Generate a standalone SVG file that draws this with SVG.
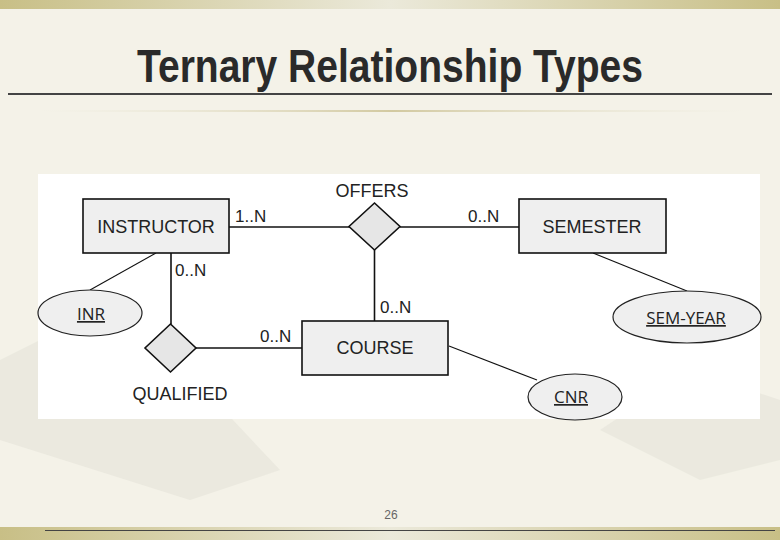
<svg xmlns="http://www.w3.org/2000/svg" width="780" height="540" viewBox="0 0 780 540">
<defs>
<linearGradient id="band" x1="0" y1="0" x2="1" y2="0">
<stop offset="0" stop-color="#c8bf86"/>
<stop offset="0.5" stop-color="#ebe9da"/>
<stop offset="1" stop-color="#c8bf86"/>
</linearGradient>
<linearGradient id="faint" x1="0" y1="0" x2="1" y2="0">
<stop offset="0" stop-color="#e8e5d4" stop-opacity="0"/>
<stop offset="0.5" stop-color="#d2c9a0"/>
<stop offset="1" stop-color="#e8e5d4" stop-opacity="0"/>
</linearGradient>
</defs>
<style>
.ent{fill:#efefef;stroke:#111;stroke-width:1.6}
.rel{fill:#e6e6e6;stroke:#111;stroke-width:1.6}
.att{fill:#efefef;stroke:#222;stroke-width:1.2}
.lbl{font-family:"Liberation Sans",Arial,sans-serif;font-size:18px;fill:#222}
.card{font-family:"Liberation Sans",Arial,sans-serif;font-size:17px;fill:#222}
.key{font-family:"Open Sans","Liberation Sans",sans-serif;font-size:17px;fill:#222;text-decoration:underline}
.conn line{stroke:#111;stroke-width:1.6}
.conn line.thin{stroke-width:1.1}
</style>
<rect width="780" height="540" fill="#f4f2e8"/>
<g fill="#e4e2d8" opacity="0.6">
<polygon points="0,360 120,300 280,470 190,500 0,440"/>
<polygon points="600,430 690,370 780,400 780,460 700,480"/>
</g>
<rect x="0" y="0" width="780" height="9" fill="url(#band)"/>
<rect x="0" y="527" width="780" height="13" fill="url(#band)"/>
<line x1="45" y1="530.5" x2="775" y2="530.5" stroke="#444" stroke-width="1.2"/>
<text x="390" y="82" text-anchor="middle" font-family="'Liberation Sans Narrow','Liberation Sans',Arial,sans-serif" font-size="46" font-weight="bold" fill="#2a2a2a" textLength="506" lengthAdjust="spacingAndGlyphs">Ternary Relationship Types</text>
<line x1="8" y1="94" x2="772" y2="94" stroke="#444" stroke-width="2"/>
<rect x="40" y="110" width="705" height="2" fill="url(#faint)"/>
<rect x="38" y="174" width="722" height="245" fill="#ffffff"/>
<g class="conn">
<line x1="229" y1="227" x2="350" y2="227"/>
<line x1="400" y1="227" x2="519" y2="227"/>
<line x1="374.5" y1="250" x2="374.5" y2="321"/>
<line x1="171" y1="253" x2="171" y2="324"/>
<line x1="196" y1="348" x2="302" y2="348"/>
<line class="thin" x1="156" y1="253" x2="90" y2="290"/>
<line class="thin" x1="593" y1="253" x2="687" y2="291"/>
<line class="thin" x1="449" y1="346" x2="537" y2="380"/>
</g>
<g id="instructor"><rect class="ent" x="83" y="199" width="146" height="54"/><text class="lbl" x="156" y="233" text-anchor="middle">INSTRUCTOR</text></g>
<g id="semester"><rect class="ent" x="519" y="199" width="147" height="54"/><text class="lbl" x="592" y="233" text-anchor="middle">SEMESTER</text></g>
<g id="course"><rect class="ent" x="302" y="321" width="146" height="54"/><text class="lbl" x="375" y="354" text-anchor="middle">COURSE</text></g>
<g id="offers"><polygon class="rel" points="374.5,203 400,226.5 374.5,250 349,226.5"/><text class="lbl" x="372" y="197" text-anchor="middle">OFFERS</text></g>
<g id="qualified"><polygon class="rel" points="170.5,324 196,348 170.5,372 145,348"/><text class="lbl" x="180" y="400" text-anchor="middle">QUALIFIED</text></g>
<g id="inr"><ellipse class="att" cx="90" cy="313" rx="52" ry="23"/><text class="key" x="91" y="320" text-anchor="middle">INR</text></g>
<g id="semyear"><ellipse class="att" cx="687" cy="317" rx="74" ry="26"/><text class="key" x="686" y="324" text-anchor="middle">SEM-YEAR</text></g>
<g id="cnr"><ellipse class="att" cx="575" cy="397" rx="47" ry="23"/><text class="key" x="571" y="403" text-anchor="middle">CNR</text></g>
<g id="cards">
<text class="card" x="235" y="222">1..N</text>
<text class="card" x="468" y="222">0..N</text>
<text class="card" x="380" y="313">0..N</text>
<text class="card" x="175" y="276">0..N</text>
<text class="card" x="260" y="342">0..N</text>
</g>
<text x="391" y="519" text-anchor="middle" font-family="'Liberation Sans',sans-serif" font-size="12" fill="#666">26</text>
</svg>
